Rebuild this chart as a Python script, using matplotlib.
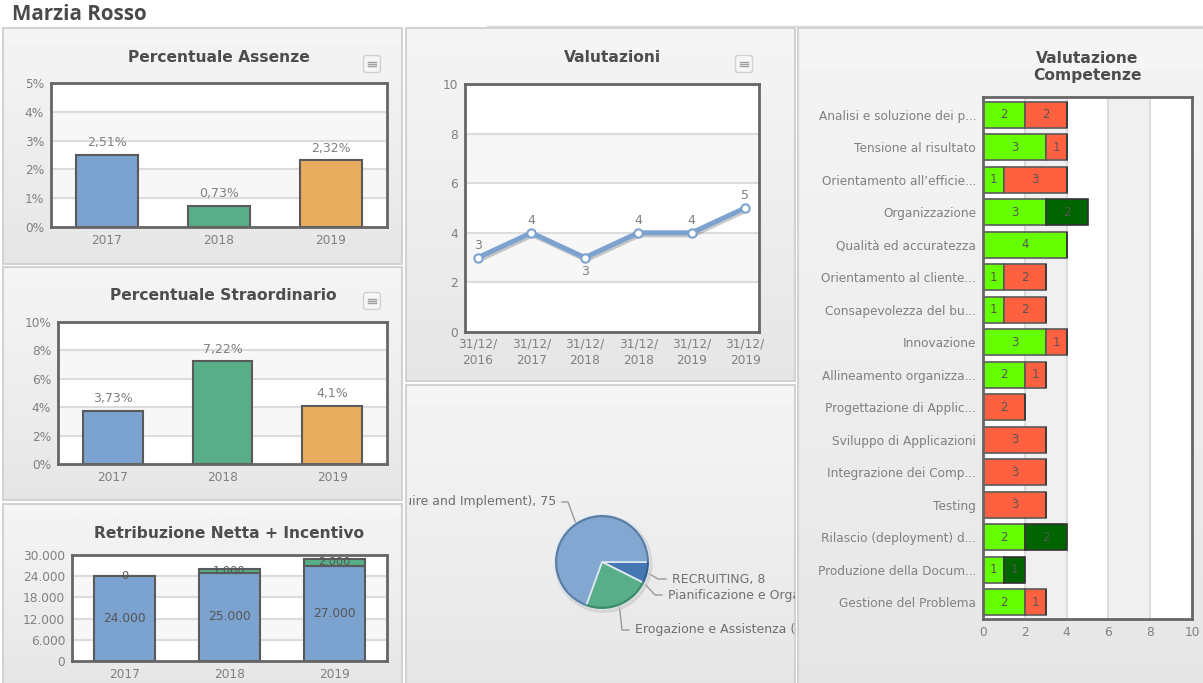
import matplotlib.pyplot as plt
import matplotlib.patheffects as pe
import numpy as np
from matplotlib.patches import FancyBboxPatch, Circle

LARGHEZZA, ALTEZZA = 1203, 683

anni = ["2017", "2018", "2019"]

assenze = [2.51, 0.73, 2.32]
assenze_etichette = ["2,51%", "0,73%", "2,32%"]
assenze_tick = [0, 1, 2, 3, 4, 5]
assenze_tick_etichette = ["0%", "1%", "2%", "3%", "4%", "5%"]

straordinario = [3.73, 7.22, 4.1]
straordinario_etichette = ["3,73%", "7,22%", "4,1%"]
straordinario_tick = [0, 2, 4, 6, 8, 10]
straordinario_tick_etichette = ["0%", "2%", "4%", "6%", "8%", "10%"]

netta = [24000, 25000, 27000]
incentivo = [0, 1000, 2000]
netta_etichette = ["24.000", "25.000", "27.000"]
incentivo_etichette = ["0", "1.000", "2.000"]
retribuzione_tick = [0, 6000, 12000, 18000, 24000, 30000]
retribuzione_tick_etichette = ["0", "6.000", "12.000", "18.000", "24.000", "30.000"]

date_valutazioni = ["31/12/\n2016", "31/12/\n2017", "31/12/\n2018", "31/12/\n2018", "31/12/\n2019", "31/12/\n2019"]
valutazioni = [3, 4, 3, 4, 4, 5]
valutazioni_tick = [0, 2, 4, 6, 8, 10]

torta_valori = [8, 0, 25, 75]
torta_etichette = [
    "RECRUITING, 8",
    "Pianificazione e Organizzazione (Plan and Organize), 0",
    "Erogazione e Assistenza (Deliver and Support), 25",
    "Acquisizione e Implementazione (Acquire and Implement), 75",
]

competenze = [
    "Analisi e soluzione dei p...",
    "Tensione al risultato",
    "Orientamento all’efficie...",
    "Organizzazione",
    "Qualità ed accuratezza",
    "Orientamento al cliente...",
    "Consapevolezza del bu...",
    "Innovazione",
    "Allineamento organizza...",
    "Progettazione di Applic...",
    "Sviluppo di Applicazioni",
    "Integrazione dei Comp...",
    "Testing",
    "Rilascio (deployment) d...",
    "Produzione della Docum...",
    "Gestione del Problema",
]
comp_verde = [2, 3, 1, 3, 4, 1, 1, 3, 2, 0, 0, 0, 0, 2, 1, 2]
comp_rosso = [2, 1, 3, 0, 0, 2, 2, 1, 1, 2, 3, 3, 3, 0, 0, 1]
comp_scuro = [0, 0, 0, 2, 0, 0, 0, 0, 0, 0, 0, 0, 0, 2, 1, 0]
comp_tick = [0, 2, 4, 6, 8, 10]

BLU = "#7ca3cf"
VERDE = "#57ae88"
ARANCIO = "#e8ad5e"
BORDO = "#5a5a5a"
TESTO = "#808080"
TITOLO = "#4d4d4d"
GRIGLIA = "#dcdcdc"


def area_px(fig, x0, y0, x1, y1):
    return fig.add_axes([x0 / LARGHEZZA, 1 - y1 / ALTEZZA, (x1 - x0) / LARGHEZZA, (y1 - y0) / ALTEZZA])


def disegna_sfondo(fig):
    ax = fig.add_axes([0, 0, 1, 1])
    pannelli = [
        (3, 28, 402, 264),
        (3, 267, 402, 500),
        (3, 504, 402, 690),
        (406, 28, 795, 381),
        (406, 385, 795, 690),
        (798, 28, 1208, 690),
    ]
    for x0, y0, x1, y1 in pannelli:
        sfumatura = np.linspace(0.96, 0.90, 64).reshape(-1, 1)
        ax.imshow(sfumatura, extent=(x0, x1, y1, y0), cmap="gray", vmin=0, vmax=1, aspect="auto", zorder=1)
        ax.plot([x0, x1, x1, x0, x0], [y0, y0, y1, y1, y0], color="#d2d2d2", linewidth=1.5, zorder=2)

    ax.plot([487, 1203], [26, 26], color="#d8d8d8", linewidth=1, zorder=2)

    for x, y in [(372, 64), (744, 64), (372, 301)]:  # bottoni del menu
        ax.add_patch(FancyBboxPatch((x - 7, y - 7), 14, 14, boxstyle="round,pad=1.5,rounding_size=3",
                                    facecolor="#f6f6f6", edgecolor="#d0d0d0", linewidth=1, zorder=3))
        for dy in [-2, 0, 2]:
            ax.plot([x - 4, x + 4], [y + dy, y + dy], color="#a0a0a0", linewidth=1, zorder=4)

    ax.set_xlim(0, LARGHEZZA)
    ax.set_ylim(ALTEZZA, 0)
    ax.axis("off")

    ax.text(12, 14, "Marzia Rosso", fontsize=14.8, fontweight="bold", family="Open Sans", color="#4a4a4a",
            ha="left", va="center")
    titoli = [
        (219, 58, "Percentuale Assenze"),
        (223, 296, "Percentuale Straordinario"),
        (229, 533, "Retribuzione Netta + Incentivo"),
        (612, 58, "Valutazioni"),
        (1087, 67, "Valutazione\nCompetenze"),
    ]
    for x, y, titolo in titoli:
        ax.text(x, y, titolo, fontsize=11.2, fontweight="bold", color=TITOLO, ha="center", va="center", linespacing=1.15)


def stile_assi(ax):
    for lato in ax.spines.values():
        lato.set_linewidth(2)
        lato.set_color("#666666")
    ax.tick_params(length=0, labelsize=8.7, labelcolor=TESTO, pad=5)
    ax.set_facecolor("white")
    ax.set_axisbelow(True)


def bande(ax, tick, orizzontali=True, colore="#f7f7f7"):
    for i in range(len(tick) - 1):
        if orizzontali:
            if i % 2 == 1:
                ax.axhspan(tick[i], tick[i + 1], facecolor=colore, zorder=0)
            if i > 0:
                ax.axhline(tick[i], color=GRIGLIA, linewidth=1.5, zorder=1)
        else:
            if i % 2 == 1:
                ax.axvspan(tick[i], tick[i + 1], facecolor=colore, zorder=0)
            if i > 0:
                ax.axvline(tick[i], color=GRIGLIA, linewidth=1.5, zorder=1)


def barre_percentuali(fig, box, valori, etichette, tick, tick_etichette):
    ax = area_px(fig, *box)
    posizioni = np.arange(len(anni))
    bande(ax, tick)
    ax.bar(posizioni, valori, width=0.545, color=[BLU, VERDE, ARANCIO], edgecolor=BORDO, linewidth=1.5, zorder=2)
    for x, v, et in zip(posizioni, valori, etichette):
        ax.annotate(et, (x, v), xytext=(0, 4), textcoords="offset points", ha="center", va="bottom",
                    fontsize=9, color=TESTO, zorder=3)
    ax.set_xticks(posizioni)
    ax.set_xticklabels(anni)
    ax.set_yticks(tick)
    ax.set_yticklabels(tick_etichette)
    ax.set_xlim(-0.5, 2.5)
    ax.set_ylim(tick[0], tick[-1])
    stile_assi(ax)


def barre_retribuzione(fig, box):
    ax = area_px(fig, *box)
    posizioni = np.arange(len(anni))
    bande(ax, retribuzione_tick)
    ax.bar(posizioni, netta, width=0.585, color=BLU, edgecolor=BORDO, linewidth=1.5, zorder=2)
    ax.bar(posizioni, incentivo, bottom=netta, width=0.585, color=VERDE, edgecolor=BORDO, linewidth=1.5, zorder=2)
    for x, n, i, et_n, et_i in zip(posizioni, netta, incentivo, netta_etichette, incentivo_etichette):
        ax.text(x, n / 2, et_n, ha="center", va="center", fontsize=8.8, color="#555555", zorder=3)
        ax.text(x, n + i / 2, et_i, ha="center", va="center", fontsize=8.2, color="#555555", zorder=3)
    ax.set_xticks(posizioni)
    ax.set_xticklabels(anni)
    ax.set_yticks(retribuzione_tick)
    ax.set_yticklabels(retribuzione_tick_etichette)
    ax.set_xlim(-0.5, 2.5)
    ax.set_ylim(0, 30000)
    stile_assi(ax)


def linea_valutazioni(fig, box):
    ax = area_px(fig, *box)
    posizioni = np.arange(len(valutazioni))
    bande(ax, valutazioni_tick)
    ax.plot(posizioni, valutazioni, color=BLU, linewidth=3.6, zorder=3,
            path_effects=[pe.SimpleLineShadow(offset=(1, -1.5), alpha=0.2), pe.Normal()])
    ax.plot(posizioni, valutazioni, linestyle="none", marker="o", markersize=6, markerfacecolor="white",
            markeredgecolor=BLU, markeredgewidth=1.5, zorder=4)
    for i, (x, v) in enumerate(zip(posizioni, valutazioni)):
        sotto = i == 2  # il minimo ha il numero sotto
        ax.annotate(str(v), (x, v), xytext=(0, -5 if sotto else 4), textcoords="offset points", ha="center",
                    va="top" if sotto else "bottom", fontsize=9, color=TESTO, zorder=5)
    ax.set_xticks(posizioni)
    ax.set_xticklabels(date_valutazioni, linespacing=1.35)
    ax.set_yticks(valutazioni_tick)
    ax.set_xlim(-0.243, 5.26)
    ax.set_ylim(0, 10)
    stile_assi(ax)
    ax.tick_params(axis="x", pad=4)


def torta_profili(fig):
    x0, y0, x1, y1 = 409, 385, 795, 683
    ax = area_px(fig, x0, y0, x1, y1)
    ax.set_xlim(x0, x1)
    ax.set_ylim(ALTEZZA - y1, ALTEZZA - y0)
    ax.axis("off")

    centro = (602, ALTEZZA - 562)
    raggio = 47
    ax.add_patch(Circle((centro[0] + 1.5, centro[1] - 2), raggio + 2, facecolor="#c8c8c8", edgecolor="none", alpha=0.6))
    fette, _ = ax.pie(torta_valori, colors=["#4679b4", "#f0f0f0", VERDE, "#82a8d2"], center=centro, radius=raggio,
                      startangle=0, counterclock=False, frame=True,
                      wedgeprops={"edgecolor": "#dfe8ef", "linewidth": 1.2})
    ax.pie(torta_valori, colors=["#35608f", "#f0f0f0", "#3d8a68", "#5a7ea6"], center=centro, radius=raggio,
           startangle=0, counterclock=False, frame=True, wedgeprops={"width": 2.2, "linewidth": 0})
    ax.set_xlim(x0, x1)
    ax.set_ylim(ALTEZZA - y1, ALTEZZA - y0)
    ax.set_aspect("auto")
    ax.axis("off")

    # gomito e testo di ogni etichetta, in pixel dall'alto
    guide = [(658, 579, 666, 672), (655, 595, 662, 668), (622, 630, 629, 635), (568, 502, 562, 556)]
    angoli = [(f.theta1 + f.theta2) / 2 for f in fette]
    angoli[3] = 124  # la guida non esce dal centro della fetta grande
    for i, (gx, gy, fx, tx) in enumerate(guide):
        a = np.deg2rad(angoli[i])
        ax.plot([centro[0] + raggio * np.cos(a), gx, fx], [centro[1] + raggio * np.sin(a), ALTEZZA - gy, ALTEZZA - gy],
                color="#999999", linewidth=1, zorder=0)
        ax.text(tx, ALTEZZA - gy, torta_etichette[i], fontsize=9, color="#6f6f6f", va="center",
                ha="right" if i == 3 else "left", clip_on=True)


def barre_competenze(fig, box):
    ax = area_px(fig, *box)
    righe = np.arange(len(competenze))
    verde = np.array(comp_verde)
    rosso = np.array(comp_rosso)
    scuro = np.array(comp_scuro)
    bande(ax, comp_tick, orizzontali=False, colore="#f0f0f0")
    ax.barh(righe, verde, height=0.8, color="#66ff00", edgecolor=BORDO, linewidth=1.2, zorder=2)
    ax.barh(righe, rosso, left=verde, height=0.8, color="#ff6040", edgecolor=BORDO, linewidth=1.2, zorder=2)
    ax.barh(righe, scuro, left=verde + rosso, height=0.8, color="#006400", edgecolor="#333333", linewidth=1.2, zorder=2)
    for r in righe:
        partenza = 0
        for valore in [verde[r], rosso[r], scuro[r]]:
            if valore > 0:
                ax.text(partenza + valore / 2, r, str(valore), ha="center", va="center", fontsize=8.4,
                        color="#555555", zorder=3)
            partenza += valore
    ax.set_yticks(righe)
    ax.set_yticklabels(competenze)
    ax.set_xticks(comp_tick)
    ax.set_ylim(15.52, -0.554)
    ax.set_xlim(0, 10)
    stile_assi(ax)


fig = plt.figure(figsize=(LARGHEZZA / 100, ALTEZZA / 100), dpi=100, facecolor="white")
disegna_sfondo(fig)
barre_percentuali(fig, (51, 83, 387, 227), assenze, assenze_etichette, assenze_tick, assenze_tick_etichette)
barre_percentuali(fig, (58, 322, 387, 464), straordinario, straordinario_etichette, straordinario_tick,
                  straordinario_tick_etichette)
barre_retribuzione(fig, (72, 555, 387, 661))
linea_valutazioni(fig, (465, 84, 759, 332))
torta_profili(fig)
barre_competenze(fig, (983, 97, 1192, 619))
fig.savefig("out.png", dpi=100)
